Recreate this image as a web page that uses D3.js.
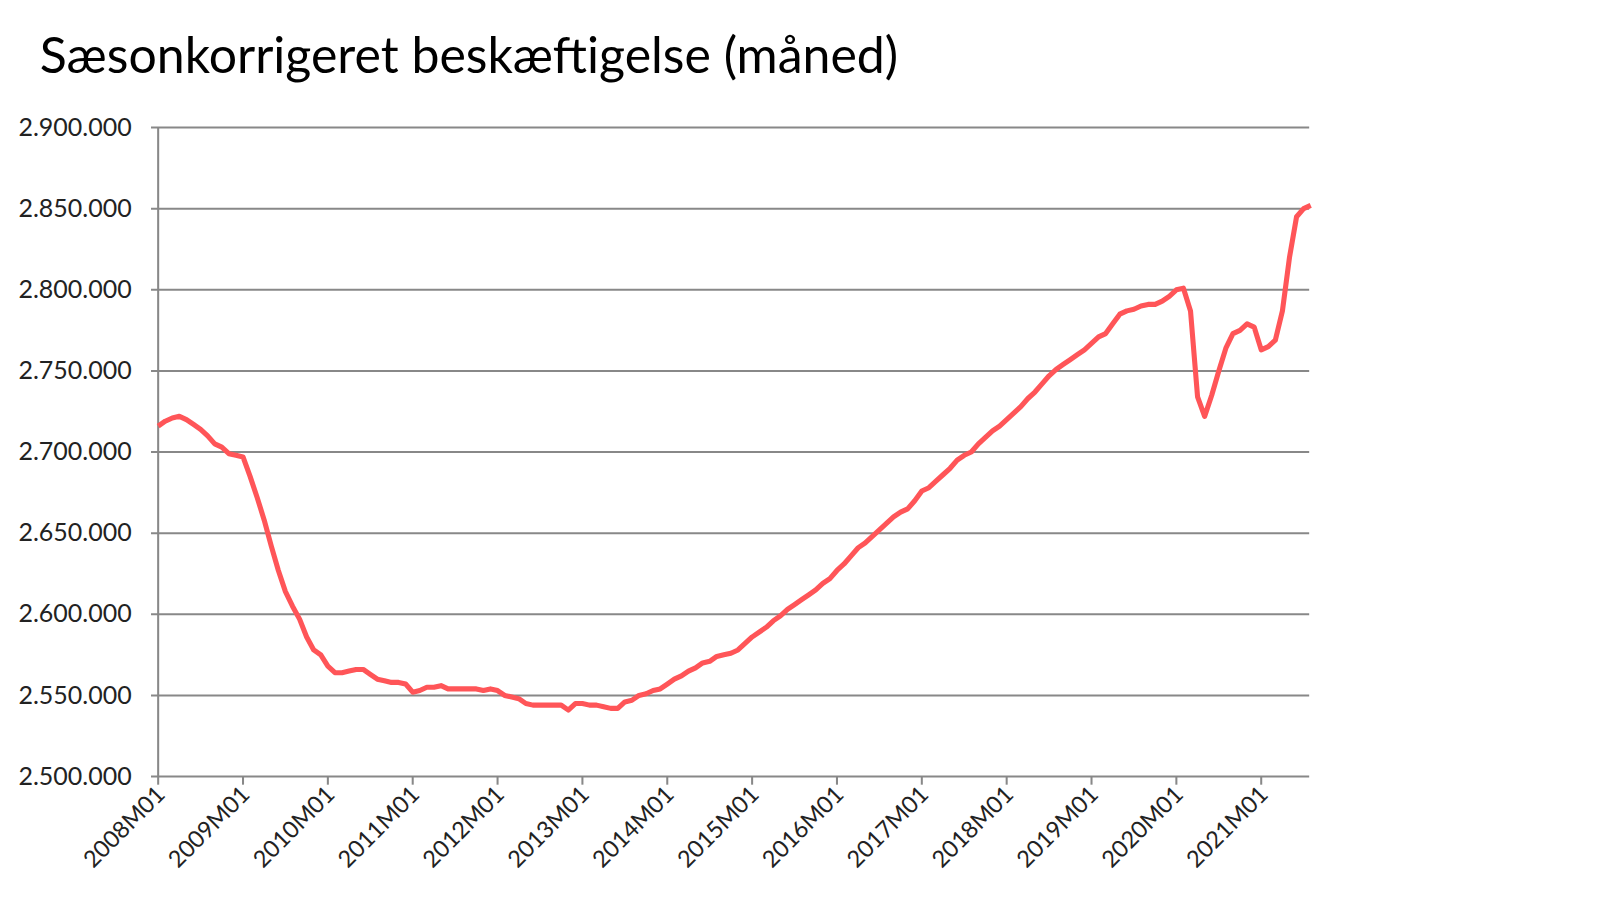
<!DOCTYPE html>
<html><head><meta charset="utf-8">
<script src="https://cdn.jsdelivr.net/npm/d3@7"></script>
<style>body{margin:0;background:#fff}svg{display:block}</style>
</head><body><svg id="c" width="1600" height="900"></svg>
<script>
const title = "Sæsonkorrigeret beskæftigelse (måned)";
const startYear = 2008;
const yTicks = [2500000,2550000,2600000,2650000,2700000,2750000,2800000,2850000,2900000];
const xTickYears = [2008,2009,2010,2011,2012,2013,2014,2015,2016,2017,2018,2019,2020,2021];
// thousands, monthly from 2008M01
const values = [
2716,2719,2721,2722,2720,2717,2714,2710,2705,2703,2699,2698,
2697,2685,2672,2658,2642,2627,2614,2605,2597,2586,2578,2575,
2568,2564,2564,2565,2566,2566,2563,2560,2559,2558,2558,2557,
2552,2553,2555,2555,2556,2554,2554,2554,2554,2554,2553,2554,
2553,2550,2549,2548,2545,2544,2544,2544,2544,2544,2541,2545,
2545,2544,2544,2543,2542,2542,2546,2547,2550,2551,2553,2554,
2557,2560,2562,2565,2567,2570,2571,2574,2575,2576,2578,2582,
2586,2589,2592,2596,2599,2603,2606,2609,2612,2615,2619,2622,
2627,2631,2636,2641,2644,2648,2652,2656,2660,2663,2665,2670,
2676,2678,2682,2686,2690,2695,2698,2700,2705,2709,2713,2716,
2720,2724,2728,2733,2737,2742,2747,2751,2754,2757,2760,2763,
2767,2771,2773,2779,2785,2787,2788,2790,2791,2791,2793,2796,
2800,2801,2787,2734,2722,2735,2750,2764,2773,2775,2779,2777,
2763,2765,2769,2787,2820,2845,2850,2852
];
const svg = d3.select("#c");
const root = svg.append("g").attr("transform","scale(1.0204)");
const x = d3.scaleLinear().domain([0,156]).range([155,1236]);
const y = d3.scaleLinear().domain([2500000,2900000]).range([761,125]);
const fmt = v => d3.format(",")(v).replace(/,/g,".");
root.append("text").attr("x",39).attr("y",72).attr("font-family","Lato").attr("font-size",49).attr("fill","#000").text(title);
const g = root.append("g");
g.selectAll("line.grid").data(yTicks).join("line").attr("x1",148).attr("x2",1283)
 .attr("y1",d=>y(d)).attr("y2",d=>y(d)).attr("stroke","#888").attr("stroke-width",2);
g.selectAll("text.yl").data(yTicks).join("text").attr("x",129).attr("y",d=>y(d)+8)
 .attr("text-anchor","end").attr("font-family","Lato").attr("font-size",24.5).attr("fill","#222").text(fmt);
g.append("line").attr("x1",155).attr("x2",155).attr("y1",125).attr("y2",761).attr("stroke","#888").attr("stroke-width",2);
g.selectAll("line.xt").data(xTickYears).join("line").attr("x1",d=>x((d-startYear)*12)).attr("x2",d=>x((d-startYear)*12))
 .attr("y1",761).attr("y2",769).attr("stroke","#888").attr("stroke-width",2);
g.selectAll("text.xl").data(xTickYears).join("text")
 .attr("transform",d=>`translate(${x((d-startYear)*12)+8},${780}) rotate(-45)`)
 .attr("text-anchor","end").attr("font-family","Lato").attr("font-size",23).attr("fill","#222").text(d=>d+"M01");
g.append("path").datum(values).attr("fill","none").attr("stroke","#ff5558").attr("stroke-width",5)
 .attr("stroke-linejoin","round").attr("d",d3.line().x((d,i)=>x(i)).y(d=>y(d*1000)));
</script></body></html>
